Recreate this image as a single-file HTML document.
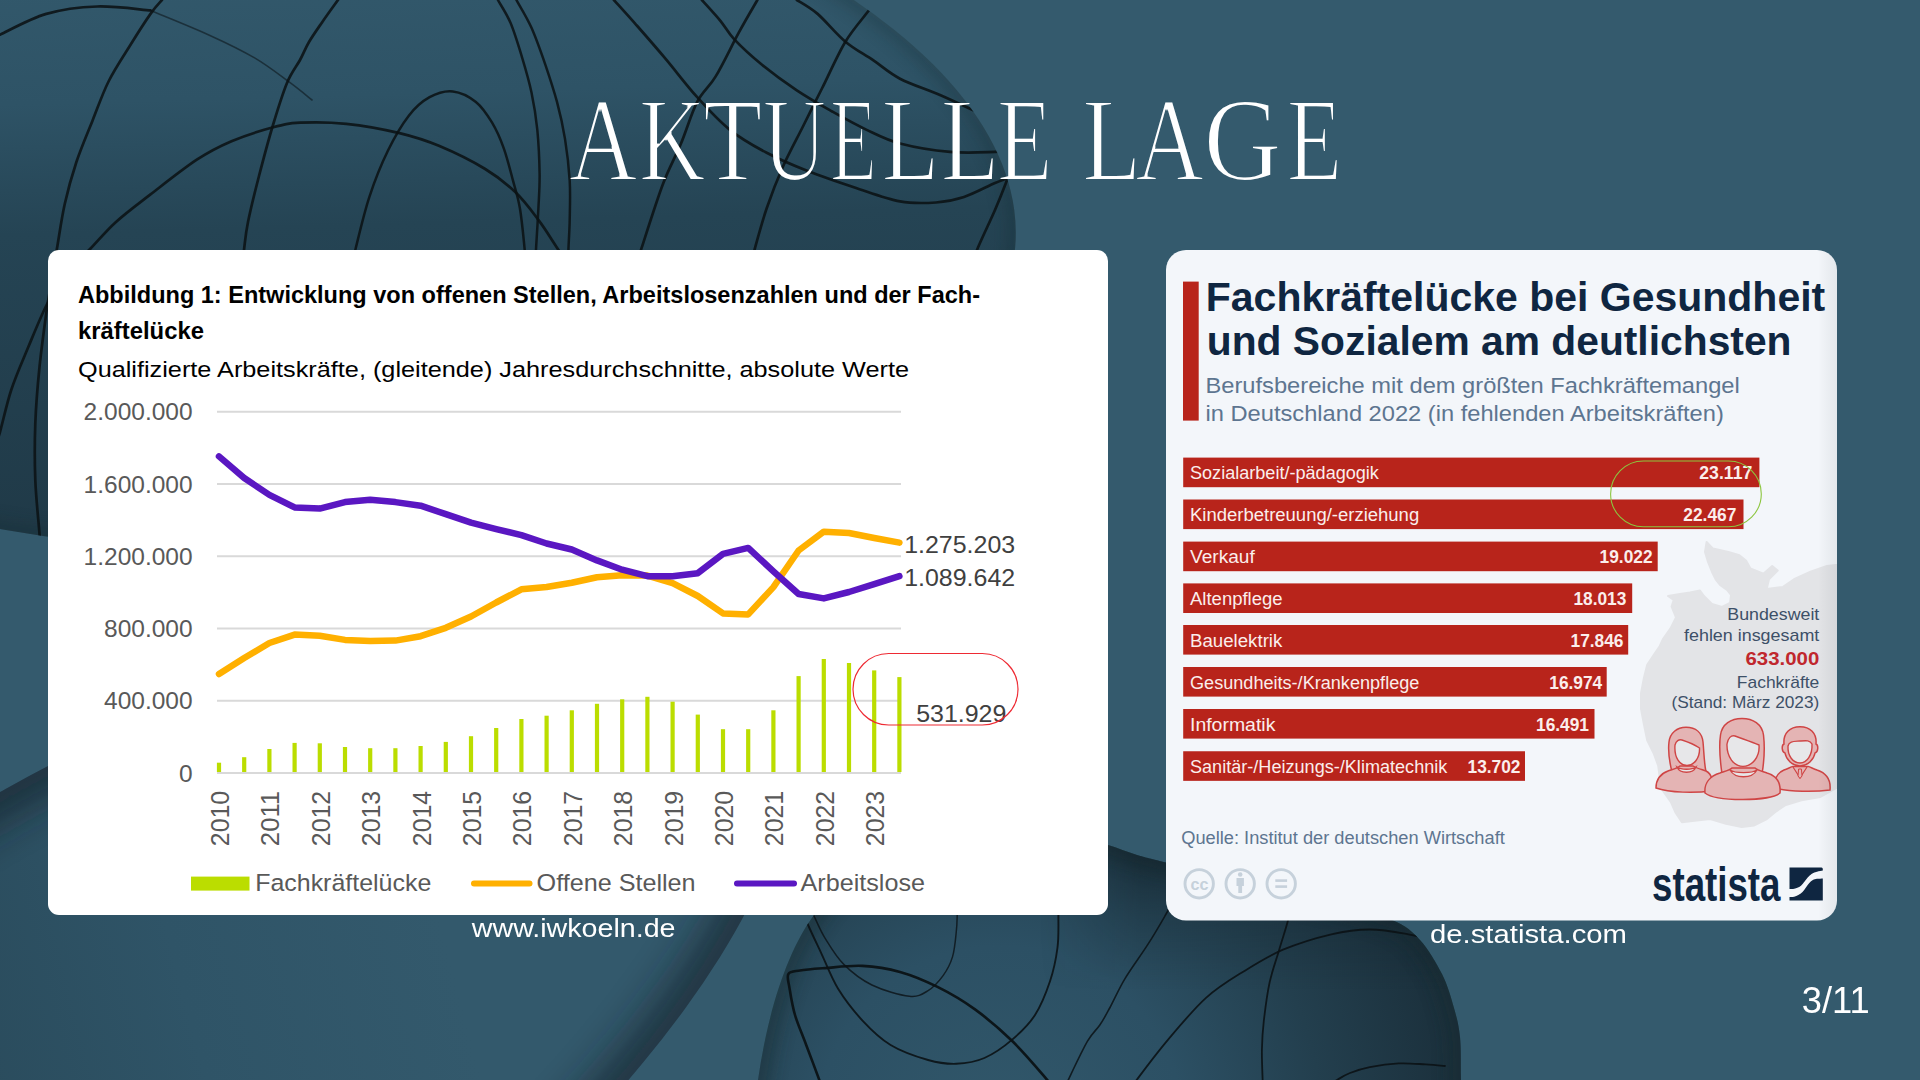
<!DOCTYPE html>
<html><head><meta charset="utf-8"><title>Aktuelle Lage</title>
<style>
html,body{margin:0;padding:0;background:#345a6d;}
body{width:1920px;height:1080px;overflow:hidden;font-family:"Liberation Sans",sans-serif;}
svg{display:block;font-family:"Liberation Sans",sans-serif;}
</style></head>
<body>
<svg width="1920" height="1080" viewBox="0 0 1920 1080">
<defs>
<linearGradient id="gTL" gradientUnits="userSpaceOnUse" x1="0" y1="0" x2="60" y2="540"><stop offset="0" stop-color="#32586b"/><stop offset="0.22" stop-color="#2e5366"/><stop offset="0.46" stop-color="#254454"/><stop offset="1" stop-color="#203a48"/></linearGradient>
<radialGradient id="gBC" gradientUnits="userSpaceOnUse" cx="1000" cy="1130" r="460"><stop offset="0" stop-color="#31576a"/><stop offset="0.4" stop-color="#2c5064"/><stop offset="0.7" stop-color="#233f4e"/><stop offset="1" stop-color="#1b303c"/></radialGradient>
<linearGradient id="gBL" gradientUnits="userSpaceOnUse" x1="0" y1="820" x2="560" y2="1010"><stop offset="0" stop-color="#284858"/><stop offset="0.55" stop-color="#2f5467"/><stop offset="1" stop-color="#33596c"/></linearGradient>
<clipPath id="cTL"><ellipse cx="193" cy="179" rx="825" ry="372" transform="rotate(4.7 193 179)"/></clipPath>
<clipPath id="cBL"><ellipse cx="39" cy="1154" rx="876" ry="330" transform="rotate(-33.3 39 1154)"/></clipPath>
<clipPath id="cBC"><path d="M745,1160 L758,1080 C768,1010 788,950 814,915 C830,880 900,845 1000,835 L1080.0,838.0 C1084.7,839.2 1098.5,842.2 1108.0,845.0 C1117.5,847.8 1127.3,852.1 1137.0,855.0 C1146.7,857.9 1147.2,857.8 1166.0,862.5 C1184.8,867.2 1222.7,876.6 1250.0,883.0 C1277.3,889.4 1306.3,894.8 1330.0,901.0 C1353.7,907.2 1377.0,913.5 1392.0,920.0 C1407.0,926.5 1411.7,931.0 1420.0,940.0 C1428.3,949.0 1436.3,962.7 1442.0,974.0 C1447.7,985.3 1451.0,997.5 1454.0,1008.0 C1457.0,1018.5 1458.8,1025.0 1460.0,1037.0 C1461.2,1049.0 1460.7,1059.5 1461.0,1080.0 C1461.3,1100.5 1461.8,1146.7 1462.0,1160.0 Z"/></clipPath>
<filter id="blur14" x="-20%" y="-20%" width="140%" height="140%"><feGaussianBlur stdDeviation="14"/></filter>
<filter id="blur8" x="-20%" y="-20%" width="140%" height="140%"><feGaussianBlur stdDeviation="8"/></filter>
</defs>
<rect width="1920" height="1080" fill="#345a6d"/>
<ellipse cx="39" cy="1154" rx="876" ry="330" transform="rotate(-33.3 39 1154)" fill="url(#gBL)"/>
<filter id="blur20" x="-20%" y="-20%" width="140%" height="140%"><feGaussianBlur stdDeviation="20"/></filter>
<g clip-path="url(#cBL)"><ellipse cx="39" cy="1154" rx="876" ry="330" transform="rotate(-33.3 39 1154)" fill="none" stroke="#132329" stroke-width="50" opacity="0.7" filter="url(#blur20)"/></g>
<ellipse cx="193" cy="179" rx="825" ry="372" transform="rotate(4.7 193 179)" fill="url(#gTL)"/>
<g clip-path="url(#cTL)"><ellipse cx="193" cy="179" rx="825" ry="372" transform="rotate(4.7 193 179)" fill="none" stroke="#16292f" stroke-width="18" opacity="0.3" filter="url(#blur8)"/></g>
<path d="M745,1160 L758,1080 C768,1010 788,950 814,915 C830,880 900,845 1000,835 L1080.0,838.0 C1084.7,839.2 1098.5,842.2 1108.0,845.0 C1117.5,847.8 1127.3,852.1 1137.0,855.0 C1146.7,857.9 1147.2,857.8 1166.0,862.5 C1184.8,867.2 1222.7,876.6 1250.0,883.0 C1277.3,889.4 1306.3,894.8 1330.0,901.0 C1353.7,907.2 1377.0,913.5 1392.0,920.0 C1407.0,926.5 1411.7,931.0 1420.0,940.0 C1428.3,949.0 1436.3,962.7 1442.0,974.0 C1447.7,985.3 1451.0,997.5 1454.0,1008.0 C1457.0,1018.5 1458.8,1025.0 1460.0,1037.0 C1461.2,1049.0 1460.7,1059.5 1461.0,1080.0 C1461.3,1100.5 1461.8,1146.7 1462.0,1160.0 Z" fill="url(#gBC)"/>
<g clip-path="url(#cBC)"><path d="M745,1160 L758,1080 C768,1010 788,950 814,915 C830,880 900,845 1000,835 L1080.0,838.0 C1084.7,839.2 1098.5,842.2 1108.0,845.0 C1117.5,847.8 1127.3,852.1 1137.0,855.0 C1146.7,857.9 1147.2,857.8 1166.0,862.5 C1184.8,867.2 1222.7,876.6 1250.0,883.0 C1277.3,889.4 1306.3,894.8 1330.0,901.0 C1353.7,907.2 1377.0,913.5 1392.0,920.0 C1407.0,926.5 1411.7,931.0 1420.0,940.0 C1428.3,949.0 1436.3,962.7 1442.0,974.0 C1447.7,985.3 1451.0,997.5 1454.0,1008.0 C1457.0,1018.5 1458.8,1025.0 1460.0,1037.0 C1461.2,1049.0 1460.7,1059.5 1461.0,1080.0 C1461.3,1100.5 1461.8,1146.7 1462.0,1160.0 Z" fill="none" stroke="#16292f" stroke-width="26" opacity="0.4" filter="url(#blur8)"/></g>
<linearGradient id="gBCtop" gradientUnits="userSpaceOnUse" x1="0" y1="840" x2="0" y2="990"><stop offset="0" stop-color="#0e1b22" stop-opacity="0.55"/><stop offset="0.5" stop-color="#0e1b22" stop-opacity="0.2"/><stop offset="1" stop-color="#0e1b22" stop-opacity="0"/></linearGradient>
<linearGradient id="gHx" gradientUnits="userSpaceOnUse" x1="1040" y1="0" x2="1140" y2="0"><stop offset="0" stop-color="#fff" stop-opacity="0"/><stop offset="1" stop-color="#fff" stop-opacity="1"/></linearGradient>
<mask id="mHx" maskUnits="userSpaceOnUse" x="700" y="800" width="800" height="300"><rect x="700" y="800" width="800" height="300" fill="url(#gHx)"/></mask>
<g clip-path="url(#cBC)"><rect mask="url(#mHx)" x="740" y="830" width="740" height="200" fill="url(#gBCtop)"/></g>
<g clip-path="url(#cTL)" fill="none" stroke="#0b1215" stroke-linecap="round">
<path d="M0.0,34.7 C7.7,31.2 30.1,18.6 46.3,13.9 C62.5,9.2 79.8,7.1 97.2,6.5 C114.6,5.9 141.6,9.8 150.5,10.4" stroke-width="2.7" opacity="0.88"/>
<path d="M150.5,10.4 C160.1,14.5 191.0,26.8 208.3,34.7 C225.7,42.6 241.1,50.0 254.6,57.9 C268.1,65.8 279.8,75.2 289.4,82.2 C299.0,89.2 308.2,97.0 312.0,100.0" stroke-width="1.6" opacity="0.55"/>
<path d="M162.0,0.0 C160.1,2.3 155.9,6.2 150.5,13.9 C145.1,21.6 136.5,35.1 129.6,46.3 C122.6,57.5 115.0,68.7 108.8,81.0 C102.6,93.3 98.0,106.9 92.6,120.4 C87.2,133.9 81.0,148.1 76.4,162.0 C71.8,175.9 68.1,189.0 64.8,203.7 C61.5,218.4 59.2,235.6 56.7,250.0 C54.2,264.4 51.7,279.9 50.0,290.0 C48.3,300.1 48.4,297.8 46.6,310.6 C44.9,323.4 41.4,348.2 39.5,367.0 C37.6,385.8 36.0,404.8 35.3,423.6 C34.6,442.4 34.6,461.6 35.3,480.0 C36.0,498.4 38.5,520.5 39.5,533.8 C40.5,547.1 40.8,555.6 41.0,560.0" stroke-width="2.7" opacity="0.88"/>
<path d="M-5.0,445.0 C-4.2,442.8 -2.7,441.2 0.0,432.0 C2.7,422.8 6.6,403.8 11.3,389.7 C16.0,375.6 22.3,361.4 28.2,347.3 C34.1,333.2 40.5,317.1 46.6,305.0 C52.7,292.9 57.7,284.4 65.0,275.0 C72.3,265.6 81.8,257.6 90.3,248.8 C98.8,240.0 105.7,231.3 115.7,222.2 C125.7,213.1 137.0,204.8 150.5,194.4 C164.0,184.0 183.3,168.6 196.8,159.7 C210.3,150.8 218.8,146.6 231.5,141.2 C244.2,135.8 261.7,130.4 273.1,127.3 C284.5,124.2 287.8,123.3 300.0,122.7 C312.2,122.1 329.7,122.1 346.3,123.8 C362.9,125.5 384.1,129.4 399.5,133.1 C414.9,136.8 424.6,139.8 438.9,145.8 C453.2,151.8 472.5,161.3 485.2,169.0 C497.9,176.7 506.4,183.6 515.3,192.1 C524.2,200.6 531.4,210.6 538.4,219.9 C545.4,229.2 550.9,238.5 557.0,247.7 C563.1,256.9 572.0,270.4 575.0,275.0" stroke-width="2.7" opacity="0.88"/>
<path d="M338.0,0.0 C335.5,3.5 327.8,14.0 323.0,21.0 C318.2,28.0 312.8,35.5 309.0,42.0 C305.2,48.5 303.7,53.2 300.0,60.0 C296.3,66.8 291.5,72.2 287.0,83.0 C282.5,93.8 277.7,109.5 273.0,125.0 C268.3,140.5 263.2,159.8 259.0,176.0 C254.8,192.2 250.5,209.7 248.0,222.0 C245.5,234.3 245.2,240.3 244.0,250.0 C242.8,259.7 241.5,275.0 241.0,280.0" stroke-width="2.7" opacity="0.88"/>
<path d="M350.0,275.0 C350.9,270.6 352.4,261.8 355.6,248.8 C358.8,235.8 364.0,213.2 369.4,196.8 C374.8,180.4 381.4,164.0 388.0,150.5 C394.6,137.0 401.9,124.6 408.8,115.7 C415.7,106.8 422.3,101.2 429.6,97.2 C436.9,93.2 445.1,90.6 452.8,91.4 C460.5,92.2 469.3,96.7 475.9,101.9 C482.4,107.1 487.5,115.0 492.1,122.7 C496.7,130.4 500.2,138.4 503.7,148.1 C507.2,157.8 510.3,170.6 513.0,180.6 C515.7,190.6 518.0,197.1 519.9,208.3 C521.8,219.5 523.5,237.4 524.5,247.7 C525.5,258.0 525.8,266.3 526.0,270.0" stroke-width="2.5" opacity="0.88"/>
<path d="M497.9,0.0 C500.0,3.9 506.6,13.5 510.6,23.1 C514.7,32.8 518.7,46.3 522.2,57.9 C525.7,69.5 529.0,80.6 531.5,92.6 C534.0,104.5 535.9,116.1 537.3,129.6 C538.6,143.1 539.4,160.5 539.6,173.6 C539.8,186.7 539.0,196.0 538.4,208.3 C537.8,220.7 536.7,237.4 536.1,247.7 C535.5,258.0 535.2,266.3 535.0,270.0" stroke-width="2.5" opacity="0.88"/>
<path d="M516.4,0.0 C518.9,4.6 526.7,17.0 531.5,27.8 C536.3,38.6 541.1,52.4 545.4,64.8 C549.6,77.2 553.7,89.6 557.0,101.9 C560.3,114.2 562.9,125.8 565.0,138.9 C567.1,152.0 568.9,167.1 569.7,180.6 C570.5,194.1 569.9,208.7 569.7,219.9 C569.5,231.1 568.8,239.3 568.5,247.7 C568.2,256.1 568.1,266.3 568.0,270.0" stroke-width="2.5" opacity="0.88"/>
<path d="M613.9,0.0 C617.4,3.9 626.2,13.5 634.7,23.1 C643.2,32.8 654.4,45.5 664.8,57.9 C675.2,70.2 686.4,85.2 697.2,97.2 C708.0,109.2 718.0,120.3 729.6,129.6 C741.2,138.9 753.6,145.9 766.7,152.8 C779.8,159.8 793.6,165.5 808.3,171.3 C822.9,177.1 839.3,182.5 854.6,187.5 C869.9,192.5 886.4,198.9 900.0,201.4 C913.6,203.9 925.3,203.2 936.0,202.5 C946.7,201.8 954.2,200.2 964.0,197.0 C973.8,193.8 986.5,186.7 995.0,183.0 C1003.5,179.3 1011.7,176.3 1015.0,175.0" stroke-width="2.7" opacity="0.88"/>
<path d="M701.9,0.0 C705.0,3.5 715.0,14.2 720.4,20.8 C725.8,27.4 727.4,32.1 734.3,39.4 C741.2,46.7 751.6,56.3 762.0,64.8 C772.4,73.3 785.2,82.6 796.8,90.3 C808.4,98.0 819.9,104.5 831.5,111.1 C843.1,117.6 854.8,124.2 866.2,129.6 C877.6,135.0 886.0,139.8 900.0,143.5 C914.0,147.2 934.2,150.5 950.0,151.9 C965.8,153.3 984.2,152.2 995.0,151.9 C1005.8,151.6 1011.7,150.3 1015.0,150.0" stroke-width="2.7" opacity="0.88"/>
<path d="M796.8,0.0 C800.3,2.3 809.5,7.0 817.6,13.9 C825.7,20.9 836.1,34.0 845.4,41.7 C854.6,49.4 864.0,54.0 873.1,60.2 C882.2,66.4 888.9,72.9 900.0,78.7 C911.1,84.5 927.0,89.4 940.0,95.0 C953.0,100.6 967.2,107.5 978.0,112.5 C988.8,117.5 1000.5,122.9 1005.0,125.0" stroke-width="2.7" opacity="0.88"/>
<path d="M757.4,0.0 C754.3,5.4 745.8,19.7 738.9,32.4 C732.0,45.1 722.7,64.8 715.7,76.4 C708.8,88.0 703.0,90.7 697.2,101.9 C691.4,113.1 686.8,129.6 681.0,143.5 C675.2,157.4 669.0,167.8 662.5,185.2 C656.0,202.6 646.3,233.6 641.7,247.7 C637.1,261.8 636.1,266.3 635.0,270.0" stroke-width="2.7" opacity="0.88"/>
<path d="M875.0,0.0 C874.1,1.6 874.6,2.4 869.7,9.3 C864.8,16.2 853.3,28.6 845.4,41.7 C837.5,54.8 829.2,74.1 822.2,88.0 C815.2,101.9 810.2,111.9 803.7,125.0 C797.2,138.1 789.1,152.8 782.9,166.7 C776.7,180.6 771.3,194.8 766.7,208.3 C762.1,221.8 757.9,237.4 755.1,247.7 C752.3,258.0 750.9,266.3 750.0,270.0" stroke-width="2.7" opacity="0.88"/>
<path d="M1018.0,150.0 C1016.0,155.5 1009.8,172.8 1006.0,182.8 C1002.2,192.8 999.7,199.2 995.0,210.0 C990.3,220.8 982.2,237.5 978.0,247.5 C973.8,257.5 971.3,266.2 970.0,270.0" stroke-width="2.7" opacity="0.88"/>
</g>
<g clip-path="url(#cBC)" fill="none" stroke="#0b1215" stroke-linecap="round">
<path d="M821.2,1085.0 C818.8,1078.3 810.6,1056.7 806.2,1045.0 C801.9,1033.3 797.8,1024.5 795.0,1015.0 C792.2,1005.5 790.6,994.8 789.5,988.0 C788.4,981.2 786.6,976.9 788.4,974.0 C790.1,971.1 793.9,971.5 800.0,970.5 C806.1,969.5 814.6,968.9 825.0,968.1 C835.4,967.3 850.0,965.3 862.5,965.9 C875.0,966.5 887.5,968.4 900.0,971.9 C912.5,975.4 925.0,980.6 937.5,986.9 C950.0,993.1 962.5,1000.3 975.0,1009.4 C987.5,1018.5 1000.6,1029.7 1012.5,1041.3 C1024.4,1052.9 1040.0,1071.5 1046.3,1078.8 C1052.5,1086.1 1049.4,1084.0 1050.0,1085.0" stroke-width="2.6" opacity="0.95"/>
<path d="M800.0,905.0 C801.4,908.3 804.6,917.0 808.1,925.0 C811.6,933.0 816.2,942.5 821.2,953.1 C826.2,963.7 831.2,977.5 838.1,988.8 C845.0,1000.0 853.8,1011.2 862.5,1020.6 C871.2,1030.0 879.7,1038.4 890.6,1045.0 C901.5,1051.6 917.2,1056.9 928.1,1060.0 C939.0,1063.1 946.9,1064.1 956.2,1063.8 C965.6,1063.4 975.0,1062.1 984.4,1058.0 C993.8,1053.9 1004.1,1046.6 1012.5,1039.4 C1020.9,1032.2 1028.8,1024.7 1035.0,1015.0 C1041.2,1005.3 1046.2,992.5 1050.0,981.2 C1053.8,970.0 1056.1,958.4 1057.5,947.5 C1058.9,936.6 1058.3,923.5 1058.4,915.6 C1058.5,907.7 1058.1,902.6 1058.0,900.0" stroke-width="1.9" opacity="0.9"/>
<path d="M808.0,905.0 C809.0,906.8 810.9,910.1 813.8,915.6 C816.6,921.1 820.0,930.0 825.0,938.1 C830.0,946.2 835.9,956.6 843.8,964.4 C851.6,972.2 861.0,979.7 871.9,985.0 C882.8,990.3 900.0,995.3 909.4,996.2 C918.8,997.2 922.5,994.0 928.1,990.6 C933.7,987.2 939.0,981.2 943.1,975.6 C947.2,970.0 950.3,964.1 952.5,956.9 C954.7,949.7 955.5,939.4 956.2,932.5 C957.0,925.6 957.1,921.0 957.2,915.6 C957.3,910.2 957.0,902.6 957.0,900.0" stroke-width="1.5" opacity="0.8"/>
<path d="M1185.0,880.0 C1181.8,885.8 1171.6,904.4 1165.5,915.0 C1159.4,925.6 1155.0,933.3 1148.2,943.9 C1141.5,954.5 1131.4,968.0 1125.0,978.6 C1118.6,989.2 1114.2,999.8 1110.0,1007.5 C1105.8,1015.2 1103.8,1019.2 1100.0,1024.8 C1096.2,1030.4 1092.7,1032.3 1087.5,1041.2 C1082.3,1050.2 1072.3,1071.5 1068.8,1078.8 C1065.2,1086.0 1066.5,1084.0 1066.0,1085.0" stroke-width="1.6" opacity="0.85"/>
<path d="M1130.0,1090.0 C1131.1,1088.3 1130.3,1088.3 1136.6,1080.0 C1142.8,1071.7 1155.9,1054.0 1167.5,1040.3 C1179.1,1026.6 1193.2,1009.5 1206.0,997.9 C1218.8,986.3 1231.7,978.9 1244.5,970.9 C1257.3,962.9 1268.5,955.8 1283.0,949.7 C1297.5,943.6 1316.8,937.7 1331.3,934.3 C1345.8,930.9 1357.0,929.5 1369.8,929.5 C1382.6,929.5 1398.3,932.5 1408.3,934.3 C1418.3,936.0 1426.4,939.0 1430.0,940.0" stroke-width="1.8" opacity="0.9"/>
<path d="M1292.0,900.0 C1291.3,903.5 1290.0,912.5 1287.9,920.8 C1285.8,929.1 1282.2,939.4 1279.2,949.7 C1276.2,960.0 1272.2,970.6 1269.6,982.5 C1267.0,994.4 1265.1,1009.8 1263.8,1021.0 C1262.5,1032.2 1262.1,1039.2 1261.9,1049.9 C1261.7,1060.6 1262.7,1079.2 1262.8,1085.0" stroke-width="1.8" opacity="0.9"/>
<path d="M1330.0,1085.0 C1331.2,1084.2 1333.7,1082.0 1337.0,1080.0 C1340.3,1078.0 1344.5,1075.1 1350.0,1073.0 C1355.5,1070.9 1361.7,1068.8 1369.8,1067.2 C1377.9,1065.6 1389.4,1063.9 1398.7,1063.4 C1408.0,1062.9 1418.0,1064.0 1425.7,1064.4 C1433.4,1064.8 1441.8,1065.7 1445.0,1066.0" stroke-width="1.8" opacity="0.9"/>
</g>
<filter id="thin" x="-5%" y="-20%" width="110%" height="140%"><feMorphology operator="erode" radius="0.8"/></filter>
<g font-family="Liberation Serif" font-size="119.5" fill="#ffffff" filter="url(#thin)"><text x="568.77" y="180" textLength="68.62" lengthAdjust="spacingAndGlyphs">A</text><text x="638.95" y="180" textLength="66.44" lengthAdjust="spacingAndGlyphs">K</text><text x="703.36" y="180" textLength="58.95" lengthAdjust="spacingAndGlyphs">T</text><text x="762.66" y="180" textLength="63.39" lengthAdjust="spacingAndGlyphs">U</text><text x="830.09" y="180" textLength="46.94" lengthAdjust="spacingAndGlyphs">E</text><text x="881.57" y="180" textLength="57.81" lengthAdjust="spacingAndGlyphs">L</text><text x="940.73" y="180" textLength="58.75" lengthAdjust="spacingAndGlyphs">L</text><text x="997.09" y="180" textLength="55.43" lengthAdjust="spacingAndGlyphs">E</text><text x="1082.32" y="180" textLength="58.98" lengthAdjust="spacingAndGlyphs">L</text><text x="1135.27" y="180" textLength="68.62" lengthAdjust="spacingAndGlyphs">A</text><text x="1203.62" y="180" textLength="77.95" lengthAdjust="spacingAndGlyphs">G</text><text x="1286.69" y="180" textLength="55.43" lengthAdjust="spacingAndGlyphs">E</text></g>
<rect x="48" y="250" width="1060" height="665" rx="11" fill="#ffffff"/>
<text x="78" y="302.5" font-size="24.5" fill="#000000" font-weight="bold" textLength="902" lengthAdjust="spacingAndGlyphs">Abbildung 1: Entwicklung von offenen Stellen, Arbeitslosenzahlen und der Fach-</text>
<text x="78" y="339" font-size="24.5" fill="#000000" font-weight="bold" textLength="126" lengthAdjust="spacingAndGlyphs">kräftelücke</text>
<text x="78" y="377.3" font-size="22" fill="#000000" textLength="831" lengthAdjust="spacingAndGlyphs">Qualifizierte Arbeitskräfte, (gleitende) Jahresdurchschnitte, absolute Werte</text>
<line x1="217" y1="411.8" x2="901" y2="411.8" stroke="#d9d9d9" stroke-width="2"/>
<text x="192.6" y="420.40000000000003" font-size="24.5" fill="#595959" text-anchor="end">2.000.000</text>
<line x1="217" y1="484.0" x2="901" y2="484.0" stroke="#d9d9d9" stroke-width="2"/>
<text x="192.6" y="492.6" font-size="24.5" fill="#595959" text-anchor="end">1.600.000</text>
<line x1="217" y1="556.3" x2="901" y2="556.3" stroke="#d9d9d9" stroke-width="2"/>
<text x="192.6" y="564.9" font-size="24.5" fill="#595959" text-anchor="end">1.200.000</text>
<line x1="217" y1="628.5" x2="901" y2="628.5" stroke="#d9d9d9" stroke-width="2"/>
<text x="192.6" y="637.1" font-size="24.5" fill="#595959" text-anchor="end">800.000</text>
<line x1="217" y1="700.8" x2="901" y2="700.8" stroke="#d9d9d9" stroke-width="2"/>
<text x="192.6" y="709.4" font-size="24.5" fill="#595959" text-anchor="end">400.000</text>
<line x1="217" y1="773.0" x2="901" y2="773.0" stroke="#d9d9d9" stroke-width="2"/>
<text x="192.6" y="781.6" font-size="24.5" fill="#595959" text-anchor="end">0</text>
<rect x="216.9" y="762.7" width="4.2" height="9.3" fill="#bbdd00"/>
<rect x="242.1" y="757.2" width="4.2" height="14.8" fill="#bbdd00"/>
<rect x="267.3" y="749" width="4.2" height="23.0" fill="#bbdd00"/>
<rect x="292.5" y="742.9" width="4.2" height="29.1" fill="#bbdd00"/>
<rect x="317.7" y="743.3" width="4.2" height="28.7" fill="#bbdd00"/>
<rect x="342.9" y="747" width="4.2" height="25.0" fill="#bbdd00"/>
<rect x="368.1" y="748.2" width="4.2" height="23.8" fill="#bbdd00"/>
<rect x="393.3" y="748.2" width="4.2" height="23.8" fill="#bbdd00"/>
<rect x="418.5" y="746" width="4.2" height="26.0" fill="#bbdd00"/>
<rect x="443.7" y="741.9" width="4.2" height="30.1" fill="#bbdd00"/>
<rect x="468.9" y="736.2" width="4.2" height="35.8" fill="#bbdd00"/>
<rect x="494.1" y="728" width="4.2" height="44.0" fill="#bbdd00"/>
<rect x="519.3" y="719" width="4.2" height="53.0" fill="#bbdd00"/>
<rect x="544.5" y="715.7" width="4.2" height="56.3" fill="#bbdd00"/>
<rect x="569.7" y="710.3" width="4.2" height="61.7" fill="#bbdd00"/>
<rect x="594.9" y="703.8" width="4.2" height="68.2" fill="#bbdd00"/>
<rect x="620.1" y="699.3" width="4.2" height="72.7" fill="#bbdd00"/>
<rect x="645.3" y="696.8" width="4.2" height="75.2" fill="#bbdd00"/>
<rect x="670.5" y="701.7" width="4.2" height="70.3" fill="#bbdd00"/>
<rect x="695.7" y="714.6" width="4.2" height="57.4" fill="#bbdd00"/>
<rect x="720.9" y="729.2" width="4.2" height="42.8" fill="#bbdd00"/>
<rect x="746.1" y="729.2" width="4.2" height="42.8" fill="#bbdd00"/>
<rect x="771.3" y="710.3" width="4.2" height="61.7" fill="#bbdd00"/>
<rect x="796.5" y="676.1" width="4.2" height="95.9" fill="#bbdd00"/>
<rect x="821.7" y="659" width="4.2" height="113.0" fill="#bbdd00"/>
<rect x="846.9" y="663" width="4.2" height="109.0" fill="#bbdd00"/>
<rect x="872.1" y="670.4" width="4.2" height="101.6" fill="#bbdd00"/>
<rect x="897.3" y="677.1" width="4.2" height="94.9" fill="#bbdd00"/>
<polyline points="219.0,674 244.2,658 269.4,643 294.6,634.6 319.8,635.8 345.0,639.9 370.2,641 395.4,640.6 420.6,636.2 445.8,627.8 471.0,616.5 496.2,602.5 521.4,589.3 546.6,587 571.8,582.7 597.0,577.2 622.2,575.2 647.4,575.6 672.6,583.1 697.8,596 723.0,613.4 748.2,614.4 773.4,587.1 798.6,550.5 823.8,531.7 849.0,533 874.2,538 899.4,542.6" fill="none" stroke="#ffb000" stroke-width="6.5" stroke-linejoin="round" stroke-linecap="round"/>
<polyline points="219.0,456.4 244.2,478 269.4,494.9 294.6,507.4 319.8,508.6 345.0,502.1 370.2,499.7 395.4,502.1 420.6,505.7 445.8,514.2 471.0,522.6 496.2,529.1 521.4,535.1 546.6,543.5 571.8,549.5 597.0,560.4 622.2,569.7 647.4,576.2 672.6,576.2 697.8,573.2 723.0,553.8 748.2,547.9 773.4,571.3 798.6,594 823.8,598.4 849.0,592 874.2,584.1 899.4,576.2" fill="none" stroke="#5a17c2" stroke-width="6.5" stroke-linejoin="round" stroke-linecap="round"/>
<text transform="translate(229.0,846.2) rotate(-90)" x="0" y="0" font-size="25.5" fill="#595959" textLength="55.4" lengthAdjust="spacingAndGlyphs">2010</text>
<text transform="translate(279.4,846.2) rotate(-90)" x="0" y="0" font-size="25.5" fill="#595959" textLength="55.4" lengthAdjust="spacingAndGlyphs">2011</text>
<text transform="translate(329.8,846.2) rotate(-90)" x="0" y="0" font-size="25.5" fill="#595959" textLength="55.4" lengthAdjust="spacingAndGlyphs">2012</text>
<text transform="translate(380.2,846.2) rotate(-90)" x="0" y="0" font-size="25.5" fill="#595959" textLength="55.4" lengthAdjust="spacingAndGlyphs">2013</text>
<text transform="translate(430.6,846.2) rotate(-90)" x="0" y="0" font-size="25.5" fill="#595959" textLength="55.4" lengthAdjust="spacingAndGlyphs">2014</text>
<text transform="translate(481.0,846.2) rotate(-90)" x="0" y="0" font-size="25.5" fill="#595959" textLength="55.4" lengthAdjust="spacingAndGlyphs">2015</text>
<text transform="translate(531.4,846.2) rotate(-90)" x="0" y="0" font-size="25.5" fill="#595959" textLength="55.4" lengthAdjust="spacingAndGlyphs">2016</text>
<text transform="translate(581.8,846.2) rotate(-90)" x="0" y="0" font-size="25.5" fill="#595959" textLength="55.4" lengthAdjust="spacingAndGlyphs">2017</text>
<text transform="translate(632.2,846.2) rotate(-90)" x="0" y="0" font-size="25.5" fill="#595959" textLength="55.4" lengthAdjust="spacingAndGlyphs">2018</text>
<text transform="translate(682.6,846.2) rotate(-90)" x="0" y="0" font-size="25.5" fill="#595959" textLength="55.4" lengthAdjust="spacingAndGlyphs">2019</text>
<text transform="translate(733.0,846.2) rotate(-90)" x="0" y="0" font-size="25.5" fill="#595959" textLength="55.4" lengthAdjust="spacingAndGlyphs">2020</text>
<text transform="translate(783.4,846.2) rotate(-90)" x="0" y="0" font-size="25.5" fill="#595959" textLength="55.4" lengthAdjust="spacingAndGlyphs">2021</text>
<text transform="translate(833.8,846.2) rotate(-90)" x="0" y="0" font-size="25.5" fill="#595959" textLength="55.4" lengthAdjust="spacingAndGlyphs">2022</text>
<text transform="translate(884.2,846.2) rotate(-90)" x="0" y="0" font-size="25.5" fill="#595959" textLength="55.4" lengthAdjust="spacingAndGlyphs">2023</text>
<text x="904.2" y="552.6" font-size="24" fill="#404040" textLength="111" lengthAdjust="spacingAndGlyphs">1.275.203</text>
<text x="904.2" y="586.2" font-size="24" fill="#404040" textLength="111" lengthAdjust="spacingAndGlyphs">1.089.642</text>
<text x="916.2" y="722.2" font-size="24" fill="#404040" textLength="90.2" lengthAdjust="spacingAndGlyphs">531.929</text>
<rect x="853" y="653.5" width="165" height="71.5" rx="35.7" fill="none" stroke="#ee2a33" stroke-width="1.2"/>
<rect x="191" y="876.6" width="58.5" height="14" fill="#bbdd00"/>
<text x="255.2" y="891.2" font-size="24.5" fill="#595959" textLength="176.1" lengthAdjust="spacingAndGlyphs">Fachkräftelücke</text>
<line x1="474" y1="883.4" x2="529.5" y2="883.4" stroke="#ffb000" stroke-width="6" stroke-linecap="round"/>
<text x="536.6" y="891.2" font-size="24.5" fill="#595959" textLength="159" lengthAdjust="spacingAndGlyphs">Offene Stellen</text>
<line x1="737" y1="883.4" x2="794" y2="883.4" stroke="#5a17c2" stroke-width="6" stroke-linecap="round"/>
<text x="800.5" y="891.2" font-size="24.5" fill="#595959" textLength="124.5" lengthAdjust="spacingAndGlyphs">Arbeitslose</text>
<rect x="1166" y="250" width="671" height="670.5" rx="20" fill="#f3f6fa"/>
<clipPath id="cRC"><rect x="1166" y="250" width="671" height="670.5" rx="20"/></clipPath>
<path clip-path="url(#cRC)" d="M1706.6,542.0 L1713.0,548.6 L1728.4,551.9 L1739.4,555.2 L1746.0,560.6 L1750.3,568.3 L1763.4,573.7 L1772.2,566.0 L1777.7,570.5 L1769.0,579.2 L1766.7,589.0 L1783.0,586.9 L1794.0,579.2 L1810.5,571.6 L1826.9,566.0 L1835.6,565.0 L1840.0,565.0 L1840.0,787.0 L1836.8,787.6 L1820.4,797.0 L1801.5,800.2 L1785.8,805.0 L1776.3,811.3 L1766.9,819.1 L1754.3,825.4 L1741.7,827.0 L1726.0,823.8 L1710.2,819.1 L1694.5,820.7 L1681.9,822.3 L1675.6,812.8 L1670.8,801.8 L1663.0,790.8 L1659.8,778.2 L1658.2,765.6 L1653.5,753.0 L1647.2,740.4 L1644.0,724.7 L1641.0,708.9 L1641.0,693.2 L1644.0,677.4 L1647.2,664.8 L1653.5,655.4 L1659.8,646.0 L1662.8,639.4 L1670.5,628.4 L1676.0,617.5 L1671.6,606.6 L1673.7,600.0 L1668.0,596.0 L1680.0,594.0 L1690.0,592.5 L1700.0,590.5 L1704.0,596.0 L1712.0,604.0 L1722.0,607.0 L1730.0,603.0 L1731.0,595.0 L1727.0,590.0 L1720.0,585.0 L1716.0,580.0 L1712.0,572.0 L1708.0,562.0 L1705.0,552.0 Z" fill="#e3e4e7" stroke="#e3e4e7" stroke-width="2" stroke-linejoin="round"/>
<rect x="1183" y="281.6" width="15.7" height="139" fill="#b8241b"/>
<text x="1205.8" y="311.2" font-size="40.5" fill="#0f2641" font-weight="bold" textLength="619.4" lengthAdjust="spacingAndGlyphs">Fachkräftelücke bei Gesundheit</text>
<text x="1206.8" y="355.4" font-size="40.5" fill="#0f2641" font-weight="bold" textLength="584.7" lengthAdjust="spacingAndGlyphs">und Sozialem am deutlichsten</text>
<text x="1205.5" y="393.4" font-size="22.5" fill="#5d7590" textLength="534.3" lengthAdjust="spacingAndGlyphs">Berufsbereiche mit dem größten Fachkräftemangel</text>
<text x="1205.5" y="420.6" font-size="22.5" fill="#5d7590" textLength="518.3" lengthAdjust="spacingAndGlyphs">in Deutschland 2022 (in fehlenden Arbeitskräften)</text>
<rect x="1183.2" y="457.6" width="576.2" height="29.6" fill="#b8241b"/>
<text x="1190" y="479.20000000000005" font-size="17.5" fill="#fbeeec" textLength="188.9" lengthAdjust="spacingAndGlyphs">Sozialarbeit/-pädagogik</text>
<text x="1752.3" y="479.20000000000005" font-size="17.5" fill="#fbeeec" font-weight="bold" text-anchor="end" textLength="53" lengthAdjust="spacingAndGlyphs">23.117</text>
<rect x="1183.2" y="499.5" width="560.3" height="29.6" fill="#b8241b"/>
<text x="1190" y="521.1" font-size="17.5" fill="#fbeeec" textLength="229.2" lengthAdjust="spacingAndGlyphs">Kinderbetreuung/-erziehung</text>
<text x="1736.3" y="521.1" font-size="17.5" fill="#fbeeec" font-weight="bold" text-anchor="end" textLength="53" lengthAdjust="spacingAndGlyphs">22.467</text>
<rect x="1183.2" y="541.6" width="474.5" height="29.6" fill="#b8241b"/>
<text x="1190" y="563.2" font-size="17.5" fill="#fbeeec" textLength="64.8" lengthAdjust="spacingAndGlyphs">Verkauf</text>
<text x="1652.6" y="563.2" font-size="17.5" fill="#fbeeec" font-weight="bold" text-anchor="end" textLength="53" lengthAdjust="spacingAndGlyphs">19.022</text>
<rect x="1183.2" y="583.4" width="449.0" height="29.6" fill="#b8241b"/>
<text x="1190" y="605.0" font-size="17.5" fill="#fbeeec" textLength="92.6" lengthAdjust="spacingAndGlyphs">Altenpflege</text>
<text x="1626.4" y="605.0" font-size="17.5" fill="#fbeeec" font-weight="bold" text-anchor="end" textLength="53" lengthAdjust="spacingAndGlyphs">18.013</text>
<rect x="1183.2" y="625" width="445.0" height="29.6" fill="#b8241b"/>
<text x="1190" y="646.6" font-size="17.5" fill="#fbeeec" textLength="92.35" lengthAdjust="spacingAndGlyphs">Bauelektrik</text>
<text x="1623.5" y="646.6" font-size="17.5" fill="#fbeeec" font-weight="bold" text-anchor="end" textLength="53" lengthAdjust="spacingAndGlyphs">17.846</text>
<rect x="1183.2" y="667" width="423.5" height="29.6" fill="#b8241b"/>
<text x="1190" y="688.6" font-size="17.5" fill="#fbeeec" textLength="229.35" lengthAdjust="spacingAndGlyphs">Gesundheits-/Krankenpflege</text>
<text x="1602.25" y="688.6" font-size="17.5" fill="#fbeeec" font-weight="bold" text-anchor="end" textLength="53" lengthAdjust="spacingAndGlyphs">16.974</text>
<rect x="1183.2" y="709" width="411.3" height="29.6" fill="#b8241b"/>
<text x="1190" y="730.6" font-size="17.5" fill="#fbeeec" textLength="85.35" lengthAdjust="spacingAndGlyphs">Informatik</text>
<text x="1589" y="730.6" font-size="17.5" fill="#fbeeec" font-weight="bold" text-anchor="end" textLength="53" lengthAdjust="spacingAndGlyphs">16.491</text>
<rect x="1183.2" y="751.25" width="341.8" height="29.6" fill="#b8241b"/>
<text x="1190" y="772.85" font-size="17.5" fill="#fbeeec" textLength="257.35" lengthAdjust="spacingAndGlyphs">Sanitär-/Heizungs-/Klimatechnik</text>
<text x="1520.5" y="772.85" font-size="17.5" fill="#fbeeec" font-weight="bold" text-anchor="end" textLength="53" lengthAdjust="spacingAndGlyphs">13.702</text>
<rect x="1610.6" y="461" width="150.7" height="65.8" rx="32.9" fill="none" stroke="#8cc63f" stroke-width="1.1"/>
<text x="1819.3" y="620.3" font-size="17" fill="#3d5068" text-anchor="end" textLength="92" lengthAdjust="spacingAndGlyphs">Bundesweit</text>
<text x="1819.3" y="641.1" font-size="17" fill="#3d5068" text-anchor="end" textLength="135.3" lengthAdjust="spacingAndGlyphs">fehlen insgesamt</text>
<text x="1819.3" y="665.3" font-size="19" fill="#c0272d" font-weight="bold" text-anchor="end" textLength="73.8" lengthAdjust="spacingAndGlyphs">633.000</text>
<text x="1819.3" y="687.5" font-size="17" fill="#3d5068" text-anchor="end" textLength="82.5" lengthAdjust="spacingAndGlyphs">Fachkräfte</text>
<text x="1819.3" y="707.8" font-size="17" fill="#3d5068" text-anchor="end" textLength="147.8" lengthAdjust="spacingAndGlyphs">(Stand: März 2023)</text>
<path d="M1672,772 C1669,760 1668,750 1669,742 C1670,733 1677,727.3 1686,727.3 C1696,727.3 1702,733 1703,742 C1704,752 1704,762 1706,772 Z" fill="#e4b4b4" stroke="#cf4545" stroke-width="1.5"/>
<path d="M1656,788 C1656,780 1660,774 1668,771 C1674,769 1678,768 1680,766 L1693,766 C1696,768 1700,769 1706,771 C1712,774 1713,780 1712,791 C1695,793 1670,793 1656,788 Z" fill="#e4b4b4" stroke="#cf4545" stroke-width="1.5"/>
<path d="M1675,745 C1676,741 1679,739 1682,740 C1688,742 1695,745 1699.5,748 C1700,758 1694,765.5 1687,765.5 C1680,765.5 1674,758 1675,745 Z" fill="#e7e7e9" stroke="#cf4545" stroke-width="1.4"/>
<path d="M1677,767 C1680,774 1693,774 1696,767 C1692,770 1681,770 1677,767 Z" fill="#e7e7e9" stroke="#cf4545" stroke-width="1.3"/>
<path d="M1800,766 C1792,766 1786,759 1785,753 C1781.5,752 1781.5,745 1784,744 C1783,733 1790,726.8 1800,726.8 C1810,726.8 1817,733 1816,744 C1818.5,745 1818.5,752 1815,753 C1814,759 1808,766 1800,766 Z" fill="#e4b4b4" stroke="#cf4545" stroke-width="1.5"/>
<path d="M1775,788 C1774,780 1777,773 1784,770 C1788,768.5 1791,767 1793,766.4 L1808,766.4 C1810,767 1813,768.5 1817,770 C1826,773 1831,780 1830,790 C1815,792 1790,792 1775,788 Z" fill="#e4b4b4" stroke="#cf4545" stroke-width="1.5"/>
<path d="M1788,746 C1789,741 1794,741.5 1800,741 C1806,740.5 1810,740 1812,744 C1812.5,755 1807,763 1800,763 C1793,763 1787.5,756 1788,746 Z" fill="#e7e7e9" stroke="#cf4545" stroke-width="1.4"/>
<path d="M1793,767 L1800,778 L1807,767" fill="none" stroke="#cf4545" stroke-width="1.2"/><path d="M1798.6,769 L1801.4,769 L1802,776 L1800,778.5 L1798,776 Z" fill="#e4b4b4" stroke="#cf4545" stroke-width="1"/>
<path d="M1722,774 C1720,760 1719,745 1720.5,735 C1722,724 1731,718.4 1742,718.4 C1753,718.4 1762,724 1763.5,735 C1765,748 1764,762 1762,774 Z" fill="#e4b4b4" stroke="#cf4545" stroke-width="1.5"/>
<path d="M1705,793 C1704,783 1710,776 1720,773 C1726,771 1730,770 1732,768 L1755,768 C1757,770 1761,771 1767,773 C1777,776 1781,783 1780,793 C1770,801.5 1716,802 1705,793 Z" fill="#e4b4b4" stroke="#cf4545" stroke-width="1.5"/>
<path d="M1727,744 C1728,738 1731,735 1735,736 C1743,739 1752,742 1759,745 C1760,757 1752,766.4 1743,766.4 C1734,766.4 1726.5,757 1727,744 Z" fill="#e7e7e9" stroke="#cf4545" stroke-width="1.4"/>
<path d="M1730,770 C1735,779 1752,779 1757,770 C1752,773.5 1735,773.5 1730,770 Z" fill="#e7e7e9" stroke="#cf4545" stroke-width="1.3"/>
<text x="1181.2" y="843.6" font-size="17.5" fill="#5d7590" textLength="323.6" lengthAdjust="spacingAndGlyphs">Quelle: Institut der deutschen Wirtschaft</text>
<circle cx="1199.2" cy="883.8" r="14.2" fill="none" stroke="#c6d1db" stroke-width="2.9"/>
<circle cx="1240.2" cy="883.8" r="14.2" fill="none" stroke="#c6d1db" stroke-width="2.9"/>
<circle cx="1281.2" cy="883.8" r="14.2" fill="none" stroke="#c6d1db" stroke-width="2.9"/>
<text x="1199.4" y="889.6" font-size="17" fill="#c6d1db" font-weight="bold" text-anchor="middle" textLength="18" lengthAdjust="spacingAndGlyphs">cc</text>
<circle cx="1240.2" cy="874.5" r="2.3" fill="#c6d1db"/><path d="M1236.5,878 h7.4 v8 h-1.8 v7 h-3.8 v-7 h-1.8 z" fill="#c6d1db"/>
<rect x="1275.3" y="879.3" width="11.8" height="2.6" fill="#c6d1db"/><rect x="1275.3" y="885.3" width="11.8" height="2.6" fill="#c6d1db"/>
<text x="1652" y="900.6" font-size="48" fill="#0f2641" font-weight="bold" textLength="128.5" lengthAdjust="spacingAndGlyphs">statista</text>
<path d="M1789.5,867.5 L1821.5,867.5 Q1822.8,867.5 1822.8,869 L1822.8,870.6 C1821.8,870.8 1818.8,871.2 1817.0,871.7 C1815.2,872.2 1813.5,872.8 1811.9,873.8 C1810.4,874.7 1808.9,876.1 1807.7,877.4 C1806.5,878.7 1805.7,880.2 1804.6,881.6 C1803.5,883.0 1802.2,884.7 1801.0,885.7 C1799.8,886.7 1798.6,887.3 1797.3,887.8 C1796.0,888.3 1794.4,888.7 1793.1,888.9 C1791.8,889.1 1790.1,888.9 1789.5,888.9 Z" fill="#0f2641"/>
<path d="M1822.8,878.4 C1821.8,878.5 1818.7,878.5 1817.0,878.8 C1815.3,879.0 1814.2,879.3 1812.9,880.0 C1811.6,880.7 1810.4,881.9 1809.3,883.1 C1808.2,884.3 1807.2,885.8 1806.1,887.3 C1805.0,888.8 1803.8,890.7 1802.5,892.0 C1801.2,893.3 1799.7,894.3 1798.3,895.1 C1796.9,895.9 1795.7,896.4 1794.2,896.7 C1792.7,897.0 1790.3,896.9 1789.5,896.9 L1789.5,900.6 L1822.8,900.6 Z" fill="#0f2641"/>
<linearGradient id="gEdge" x1="0" x2="1" y1="0" y2="0"><stop offset="0" stop-color="#000" stop-opacity="0"/><stop offset="1" stop-color="#1a3040" stop-opacity="0.07"/></linearGradient>
<rect clip-path="url(#cRC)" x="1818" y="250" width="19" height="671" fill="url(#gEdge)"/>
<filter id="thin2" x="-5%" y="-30%" width="110%" height="160%"><feMorphology operator="erode" radius="0.45"/></filter>
<text x="471.8" y="937.2" font-size="25.5" fill="#ffffff" textLength="203.7" lengthAdjust="spacingAndGlyphs" filter="url(#thin2)">www.iwkoeln.de</text>
<text x="1430" y="943.2" font-size="25.5" fill="#ffffff" textLength="197" lengthAdjust="spacingAndGlyphs" filter="url(#thin2)">de.statista.com</text>
<text x="1801.8" y="1012.6" font-size="37.5" fill="#ffffff" textLength="68" lengthAdjust="spacingAndGlyphs" filter="url(#thin2)">3/11</text>
</svg>
</body></html>
